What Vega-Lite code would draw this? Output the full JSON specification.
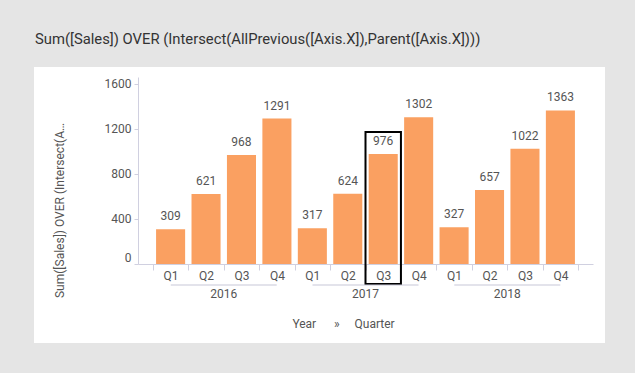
{
  "$schema": "https://vega.github.io/schema/vega-lite/v6.json",
  "width": 571,
  "height": 276,
  "autosize": "none",
  "padding": {"left": 34, "top": 67, "right": 30, "bottom": 30},
  "background": "#e5e5e5",
  "config": {"font": "Roboto", "view": {"fill": "white", "stroke": null}},
  "title": {
    "text": "Sum([Sales]) OVER (Intersect(AllPrevious([Axis.X]),Parent([Axis.X])))",
    "anchor": "start",
    "frame": "group",
    "fontSize": 14.8,
    "fontWeight": "normal",
    "color": "#333333",
    "offset": 20,
    "dx": 1
  },
  "data": {
    "values": [
      {"year": "2016", "quarter": "Q1", "period": "2016 Q1", "sales": 309, "marked": false},
      {"year": "2016", "quarter": "Q2", "period": "2016 Q2", "sales": 621, "marked": false},
      {"year": "2016", "quarter": "Q3", "period": "2016 Q3", "sales": 968, "marked": false},
      {"year": "2016", "quarter": "Q4", "period": "2016 Q4", "sales": 1291, "marked": false},
      {"year": "2017", "quarter": "Q1", "period": "2017 Q1", "sales": 317, "marked": false},
      {"year": "2017", "quarter": "Q2", "period": "2017 Q2", "sales": 624, "marked": false},
      {"year": "2017", "quarter": "Q3", "period": "2017 Q3", "sales": 976, "marked": true},
      {"year": "2017", "quarter": "Q4", "period": "2017 Q4", "sales": 1302, "marked": false},
      {"year": "2018", "quarter": "Q1", "period": "2018 Q1", "sales": 327, "marked": false},
      {"year": "2018", "quarter": "Q2", "period": "2018 Q2", "sales": 657, "marked": false},
      {"year": "2018", "quarter": "Q3", "period": "2018 Q3", "sales": 1022, "marked": false},
      {"year": "2018", "quarter": "Q4", "period": "2018 Q4", "sales": 1363, "marked": false}
    ]
  },
  "layer": [
    {
      "layer": [
        {
          "mark": {"type": "bar", "color": "#faa061", "width": {"band": 0.82}},
          "encoding": {
            "x": {
              "field": "period", "type": "nominal", "sort": null,
              "scale": {"range": [104, 559], "paddingInner": 0, "paddingOuter": 0.42},
              "axis": {
                "title": null, "orient": "bottom", "offset": -79,
                "tickBand": "extent", "tickSize": 6,
                "tickColor": "#d0d0e0", "domainColor": "#d0d0e0",
                "labelExpr": "substring(datum.label, 5)",
                "labelAngle": 0, "labelColor": "#555555", "labelFontSize": 12,
                "labelPadding": 0, "grid": false
              }
            },
            "y": {
              "field": "sales", "type": "quantitative",
              "scale": {"domain": [0, 1660], "range": [197, 10], "nice": false},
              "axis": {
                "orient": "left", "offset": -104,
                "values": [0, 400, 800, 1200, 1600], "format": "d", "grid": false,
                "tickSize": 4, "tickColor": "#d0d0e0", "domainColor": "#d0d0e0",
                "labelColor": "#555555", "labelFontSize": 12, "labelPadding": 3,
                "labelFlush": true,
                "title": "Sum([Sales]) OVER (Intersect(AllPrevious([Axis.X]),Parent([Axis.X])))",
                "titleLimit": 177, "titleX": -79, "titleY": 143,
                "titleAlign": "center", "titleBaseline": "middle", "titleAngle": 270,
                "titleColor": "#555555", "titleFontSize": 12, "titleFontWeight": "normal"
              }
            }
          }
        },
        {
          "mark": {"type": "text", "dy": -9, "baseline": "alphabetic", "fontSize": 12, "color": "#555555"},
          "encoding": {
            "x": {"field": "period", "type": "nominal", "sort": null},
            "y": {"field": "sales", "type": "quantitative"},
            "text": {"field": "sales", "type": "quantitative", "format": "d"}
          }
        },
        {
          "transform": [{"filter": "datum.marked"}],
          "mark": {"type": "bar", "filled": false, "stroke": "black", "strokeWidth": 2, "width": {"band": 1}, "yOffset": -22, "y2Offset": 20},
          "encoding": {
            "x": {"field": "period", "type": "nominal", "sort": null},
            "y": {"field": "sales", "type": "quantitative"},
            "y2": {"datum": 0}
          }
        }
      ]
    },
    {
      "transform": [{"aggregate": [{"op": "count", "as": "n"}], "groupby": ["year"]}],
      "mark": {"type": "tick", "color": "#c8c8d8", "thickness": 1, "opacity": 1, "yOffset": 21, "size": 106},
      "encoding": {
        "x": {
          "field": "year", "type": "nominal", "sort": null,
          "scale": {"range": [104, 559], "paddingInner": 0, "paddingOuter": 0.1048},
          "axis": {
            "orient": "bottom", "offset": -79, "domain": false, "ticks": false,
            "labelPadding": 24, "labelColor": "#555555", "labelFontSize": 12, "labelAngle": 0,
            "grid": false,
            "title": "Year\u00a0\u00a0\u00a0\u00a0\u00a0\u00a0»\u00a0\u00a0\u00a0\u00a0\u00a0Quarter",
            "titleX": 309, "titleY": 59, "titleAlign": "center", "titleBaseline": "middle",
            "titleColor": "#555555", "titleFontSize": 12, "titleFontWeight": "normal"
          }
        },
        "y": {"datum": 0}
      }
    }
  ],
  "resolve": {"scale": {"x": "independent"}, "axis": {"x": "independent"}}
}
